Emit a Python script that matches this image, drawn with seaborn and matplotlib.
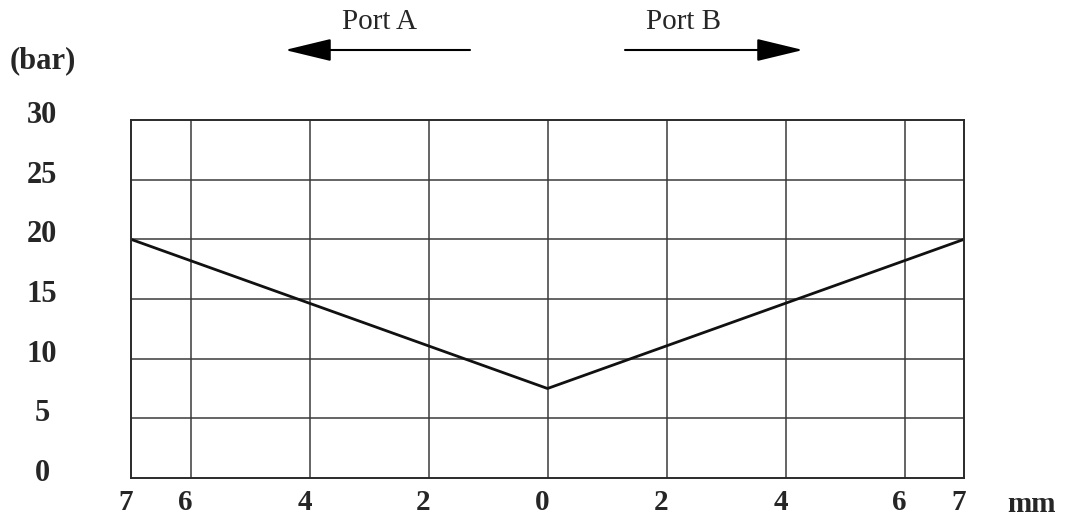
import matplotlib
matplotlib.use("Agg")
import matplotlib.pyplot as plt
import matplotlib.transforms as mtransforms
import seaborn as sns
import pandas as pd

# spool position (mm, negative = towards port A) vs pressure (bar)
stroke_mm = [-7, 0, 7]
pressure_bar = [20, 7.5, 20]

x_ticks = [-7, -6, -4, -2, 0, 2, 4, 6, 7]
x_tick_labels = ["7", "6", "4", "2", "0", "2", "4", "6", "7"]
y_ticks = [0, 5, 10, 15, 20, 25, 30]
y_tick_labels = ["0", "5", "10", "15", "20", "25", "30"]

sns.set_style("white")
plt.rcParams["font.family"] = ["Liberation Serif", "DejaVu Serif"]

fig = plt.figure(figsize=(10.8, 5.21), dpi=100)
ax = fig.add_axes([131 / 1080, 1 - 478 / 521, 833 / 1080, 358 / 521])

df = pd.DataFrame({"mm": stroke_mm, "bar": pressure_bar})
sns.lineplot(data=df, x="mm", y="bar", ax=ax, color="#111111", linewidth=2.0)

ax.set_xlim(-7, 7)
ax.set_ylim(0, 30)

# grid
for x in x_ticks[1:-1]:
    ax.axvline(x, color="#3a3a3a", linewidth=1.1, zorder=0)
for y in y_ticks[1:-1]:
    ax.axhline(y, color="#3a3a3a", linewidth=1.1, zorder=0)
for s in ax.spines.values():
    s.set_color("#2a2a2a")
    s.set_linewidth(1.4)

ax.set_xticks(x_ticks)
ax.set_xticklabels(x_tick_labels, fontsize=21, fontweight="bold")
ax.set_yticks(y_ticks)
ax.set_yticklabels(y_tick_labels, fontsize=22, fontweight="bold", ha="center")
ax.tick_params(axis="x", length=0, pad=8)
ax.tick_params(axis="y", length=0, pad=64)
ax.set_xlabel("")
ax.set_ylabel("")

shift_x = mtransforms.ScaledTranslation(-5 / 100, 0, fig.dpi_scale_trans)
for lab in ax.get_xticklabels():
    lab.set_transform(lab.get_transform() + shift_x)
shift_y = mtransforms.ScaledTranslation(0, 8 / 100, fig.dpi_scale_trans)
for lab in ax.get_yticklabels():
    lab.set_transform(lab.get_transform() + shift_y)

fig.text(43 / 1080, 1 - 61 / 521, "(bar)", fontsize=22, fontweight="bold",
         ha="center", va="center")
fig.text(1032 / 1080, 1 - 505 / 521, "mm", fontsize=21, fontweight="bold",
         ha="center", va="center")

fig.text(380 / 1080, 1 - 22 / 521, "Port A", fontsize=21, ha="center", va="center")
fig.text(683 / 1080, 1 - 22 / 521, "Port B", fontsize=21, ha="center", va="center")

arrow_style = dict(arrowstyle="-|>,head_length=2.9,head_width=0.7",
                   color="black", linewidth=1.5, shrinkA=0, shrinkB=0)
ax.annotate("", xy=(285 / 1080, 1 - 50 / 521), xytext=(470 / 1080, 1 - 50 / 521),
            xycoords="figure fraction", textcoords="figure fraction",
            arrowprops=arrow_style, annotation_clip=False)
ax.annotate("", xy=(803 / 1080, 1 - 50 / 521), xytext=(625 / 1080, 1 - 50 / 521),
            xycoords="figure fraction", textcoords="figure fraction",
            arrowprops=arrow_style, annotation_clip=False)

fig.savefig("out.png", dpi=100)
